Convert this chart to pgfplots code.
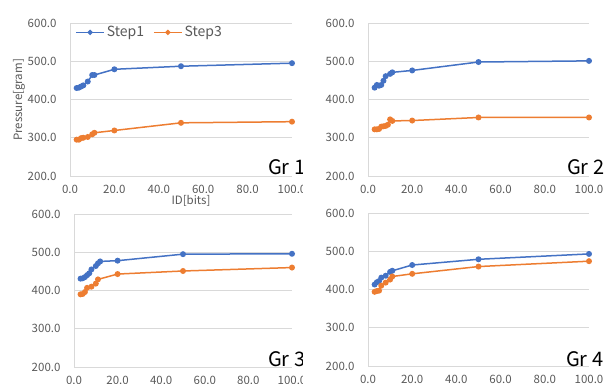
\documentclass[border=0pt]{standalone}
\usepackage{fontspec}
\setmainfont{Noto Sans CJK JP}
\usepackage{pgfplots}
\pgfplotsset{compat=1.18}
\usepackage{pgfplotstable}
\definecolor{sblue}{HTML}{4472C4}
\definecolor{sorange}{HTML}{ED7D31}
\definecolor{tickgray}{HTML}{595959}
\definecolor{gridgray}{HTML}{D9D9D9}

\pgfplotstableread{
x y
3 430
4 431
5 434
6 437
8 447
10 464
11 464
20 479
50 487
100 495
}\ga
\pgfplotstableread{
x y
3 295
4 295
5 299
6 300
8 302
10 309
11 313
20 319
50 339
100 342
}\gb
\pgfplotstableread{
x y
3 431
4 438
5 436
6 438
7 449
8 461
10 467
11 471
20 476
50 498
100 501
}\gc
\pgfplotstableread{
x y
3 322
4 322
5 323
6 329
7 330
8 331
9 334
10 348
11 344
20 345
50 353
100 353
}\gd
\pgfplotstableread{
x y
3 431
4 432
5 435
6 440
7 445
8 455
10 464
11 471
12 476
20 478
50 495
100 496
}\ge
\pgfplotstableread{
x y
3 390
4 391
5 396
6 407
8 410
10 418
11 429
20 443
50 451
100 460
}\gf
\pgfplotstableread{
x y
3 413
4 419
5 422
6 431
8 436
10 446
11 449
20 464
50 479
100 493
}\gg
\pgfplotstableread{
x y
3 394
4 396
5 397
6 410
8 418
10 426
11 434
20 441
50 460
100 474
}\gh

\pgfplotsset{
  grstyle/.style={
    scale only axis, height=153pt,
    anchor=south west,
    xmin=0, xmax=100, ymin=200, ymax=600,
    xtick={0,20,...,100}, ytick={200,300,...,600},
    axis x line*=bottom, axis y line*=left,
    axis line style={draw=gridgray, line width=0.8pt},
    ymajorgrids, grid style={draw=gridgray, line width=0.8pt},
    major tick length=0pt,
    tick label style={font=\fontsize{11.5}{13}\selectfont, text=tickgray},
    /pgf/number format/assume math mode=true,
    /pgf/number format/.cd, fixed, fixed zerofill, precision=1, /pgfplots/.cd,
    yticklabel style={xshift=-10pt},
    xticklabel style={yshift=-6pt},
    clip=false,
  },
  s1/.style={color=sblue, line width=1.5pt, mark=*, mark size=2.2pt},
  s3/.style={color=sorange, line width=1.5pt, mark=*, mark size=2.2pt},
}

\begin{document}
\begin{tikzpicture}[x=1pt,y=1pt]
\path[use as bounding box] (0,0) rectangle (605,383);

% Panel 1
\begin{scope}
\clip (0,190) rectangle (302,383);
\begin{axis}[grstyle, width=222pt, at={(70pt,207pt)},
  legend style={at={(0.01,1.005)}, anchor=north west, draw=none, fill=none,
    legend columns=2, font=\fontsize{14}{15}\selectfont, text=tickgray,
    /tikz/every even column/.append style={column sep=7pt}},
  legend image code/.code={\draw[mark repeat=2,mark phase=2,mark size=1.8pt] plot coordinates {(0pt,0pt)(14pt,0pt)(28pt,0pt)};}]
\addplot[s1] table {\ga};
\addplot[s3] table {\gb};
\legend{Step1, Step3}
\end{axis}
\node[anchor=base west, font=\fontsize{20}{24}\selectfont, inner sep=0pt] at (268,208) {Gr 1};
\end{scope}
\node[rotate=90, font=\fontsize{11.5}{13}\selectfont, text=tickgray] at (19,283) {Pressure[gram]};
\node[font=\fontsize{11.5}{13}\selectfont, text=tickgray] at (191,182) {ID[bits]};

% Panel 2
\begin{axis}[grstyle, width=221pt, at={(368pt,207pt)}]
\addplot[s1] table {\gc};
\addplot[s3] table {\gd};
\end{axis}
\node[anchor=base west, font=\fontsize{20}{24}\selectfont, inner sep=0pt] at (567,208) {Gr 2};

% Panel 3
\begin{scope}
\clip (0,0) rectangle (302,190);
\begin{axis}[grstyle, width=218pt, at={(74pt,16pt)}]
\addplot[s1] table {\ge};
\addplot[s3] table {\gf};
\end{axis}
\node[anchor=base west, font=\fontsize{20}{24}\selectfont, inner sep=0pt] at (268,17) {Gr 3};
\end{scope}

% Panel 4
\begin{axis}[grstyle, width=221pt, at={(368pt,17pt)}]
\addplot[s1] table {\gg};
\addplot[s3] table {\gh};
\end{axis}
\node[anchor=base west, font=\fontsize{20}{24}\selectfont, inner sep=0pt] at (566,17) {Gr 4};
\end{tikzpicture}
\end{document}
